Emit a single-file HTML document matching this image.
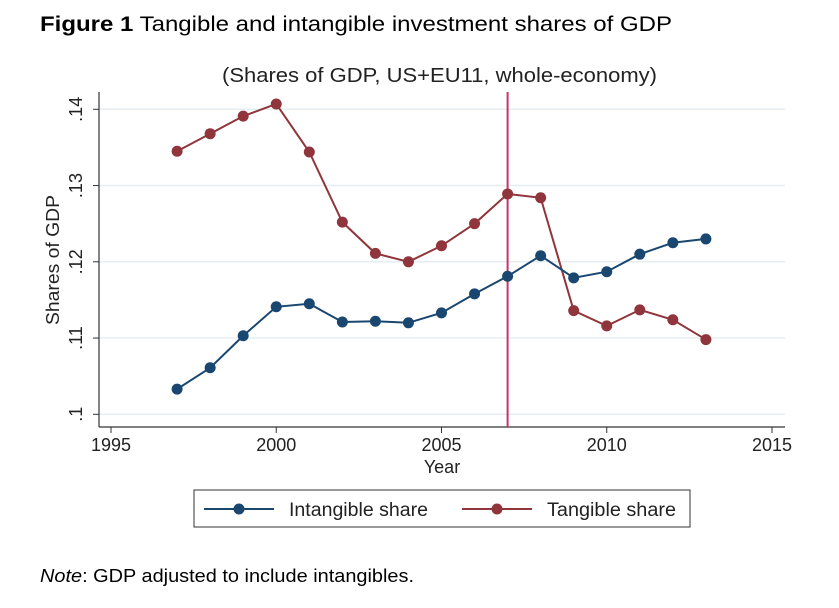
<!DOCTYPE html>
<html><head><meta charset="utf-8"><style>
body{margin:0;background:#fff;font-family:"Liberation Sans",Arial,sans-serif;}
</style></head><body>
<svg width="839" height="603" viewBox="0 0 839 603" font-family="Liberation Sans, Arial, sans-serif">
<text x="40" y="31" font-size="21" fill="#000" textLength="632" lengthAdjust="spacingAndGlyphs"><tspan font-weight="bold">Figure 1</tspan> Tangible and intangible investment shares of GDP</text>
<text x="222" y="82" font-size="20" fill="#222" textLength="435" lengthAdjust="spacingAndGlyphs">(Shares of GDP, US+EU11, whole-economy)</text>
<g id="grid"></g>
<g id="axes"></g>
<g id="series"></g>
<text transform="translate(59,260) rotate(-90)" font-size="18" text-anchor="middle" fill="#222" textLength="130" lengthAdjust="spacingAndGlyphs">Shares of GDP</text>
<text x="442" y="473" font-size="18" text-anchor="middle" fill="#222">Year</text>
<g>
<rect x="194" y="490" width="496" height="37" fill="#fff" stroke="#333" stroke-width="1"/>
<g>
<line x1="204" y1="509" x2="274" y2="509" stroke="#1a476f" stroke-width="2"/>
<circle cx="239" cy="509" r="5.5" fill="#1a476f"/>
<text x="289" y="516" font-size="19" fill="#222" textLength="139" lengthAdjust="spacingAndGlyphs">Intangible share</text></g>
<g>
<line x1="462" y1="509" x2="532" y2="509" stroke="#90353b" stroke-width="2"/>
<circle cx="497" cy="509" r="5.5" fill="#90353b"/>
<text x="547" y="516" font-size="19" fill="#222" textLength="129" lengthAdjust="spacingAndGlyphs">Tangible share</text></g>
</g>
<text x="40" y="582" font-size="18" fill="#000" textLength="374" lengthAdjust="spacingAndGlyphs"><tspan font-style="italic">Note</tspan>: GDP adjusted to include intangibles.</text>
</svg>
<script>
const years=[1997,1998,1999,2000,2001,2002,2003,2004,2005,2006,2007,2008,2009,2010,2011,2012,2013];
const intangible=[.1033,.1061,.1103,.1141,.1145,.1121,.1122,.1120,.1133,.1158,.1181,.1208,.1179,.1187,.1210,.1225,.1230];
const tangible=[.1345,.1368,.1391,.1407,.1344,.1252,.1211,.1200,.1221,.1250,.1289,.1284,.1136,.1116,.1137,.1124,.1098];
const xTicks=[1995,2000,2005,2010,2015];
const yTicks=[.1,.11,.12,.13,.14];
const yTickLabels=[".1",".11",".12",".13",".14"];
const markerYear=2007;
const NS="http://www.w3.org/2000/svg";
const X=y=>111+(y-1995)*33.05;
const Y=v=>414.3-(v-.1)*7625;
function mk(t,a,p){const e=document.createElementNS(NS,t);for(const k in a)e.setAttribute(k,a[k]);p.appendChild(e);return e;}
const grid=document.getElementById('grid'),axes=document.getElementById('axes'),ser=document.getElementById('series');
yTicks.forEach((v,i)=>{
 const g=mk('line',{x1:99,x2:785,y1:Y(v),y2:Y(v),stroke:'#e6eef2','stroke-width':1.5},grid);
 
 
 mk('line',{x1:93,x2:99,y1:Y(v),y2:Y(v),stroke:'#333','stroke-width':1},axes);
 const t=mk('text',{transform:`translate(82,${Y(v)}) rotate(-90)`,'font-size':18,'text-anchor':'middle',fill:'#222'},axes);
 t.textContent=yTickLabels[i];
 
 
});
mk('line',{x1:99,x2:99,y1:92,y2:427,stroke:'#333','stroke-width':1.2},axes);
mk('line',{x1:99,x2:785,y1:427,y2:427,stroke:'#333','stroke-width':1.2},axes);
xTicks.forEach(y=>{
 mk('line',{x1:X(y),x2:X(y),y1:427,y2:433,stroke:'#333','stroke-width':1},axes);
 const t=mk('text',{x:X(y),y:451,'font-size':18,'text-anchor':'middle',fill:'#222'},axes);
 t.textContent=y;
 
 
});
const vl=mk('line',{x1:X(markerYear),x2:X(markerYear),y1:92,y2:427,stroke:'#c8336a','stroke-width':2},ser);


function draw(vals,color,name){
 const p=mk('polyline',{points:years.map((y,i)=>X(y)+','+Y(vals[i])).join(' '),fill:'none',stroke:color,'stroke-width':2},ser);
 
 
 years.forEach((y,i)=>{
  const c=mk('circle',{cx:X(y),cy:Y(vals[i]),r:5.5,fill:color},ser);
  
  
 });
}
draw(tangible,'#90353b','tangible');
draw(intangible,'#1a476f','intangible');
</script>
</body></html>
